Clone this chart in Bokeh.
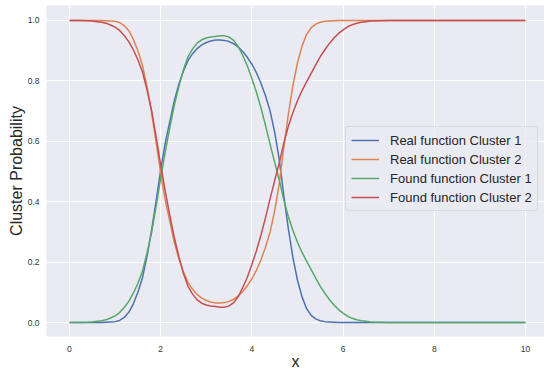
from bokeh.plotting import figure
from bokeh.models import Range1d, FixedTicker, PrintfTickFormatter, Legend, LegendItem
from bokeh.embed import file_html
from bokeh.resources import INLINE

# ---- data ----
x = [0.0, 0.2, 0.4, 0.5, 0.6, 0.7, 0.8, 0.9, 1.0, 1.1,
     1.2, 1.3, 1.4, 1.5, 1.6, 1.7, 1.8, 1.9, 2.0, 2.1,
     2.2, 2.3, 2.4, 2.5, 2.6, 2.7, 2.8, 2.9, 3.0, 3.1,
     3.2, 3.3, 3.4, 3.5, 3.6, 3.7, 3.8, 3.9, 4.0, 4.1,
     4.2, 4.3, 4.4, 4.5, 4.6, 4.7, 4.8, 4.9, 5.0, 5.1,
     5.2, 5.3, 5.4, 5.5, 5.6, 5.7, 5.8, 5.9, 6.0, 6.1,
     6.2, 6.3, 6.4, 6.5, 6.6, 6.8, 7.0, 8.0, 9.0, 10.0]

real_cluster1 = [0, 0, 0, 0, 0, 0, 0.001, 0.002, 0.003, 0.007,
                 0.017, 0.034, 0.062, 0.10, 0.148, 0.219, 0.305, 0.403, 0.505, 0.595,
                 0.665, 0.735, 0.79, 0.833, 0.868, 0.89, 0.907, 0.919, 0.927, 0.932,
                 0.935, 0.935, 0.934, 0.93, 0.923, 0.912, 0.897, 0.878, 0.855, 0.827,
                 0.792, 0.75, 0.70, 0.63, 0.54, 0.42, 0.31, 0.215, 0.14, 0.085,
                 0.046, 0.024, 0.012, 0.006, 0.003, 0.002, 0.001, 0, 0, 0,
                 0, 0, 0, 0, 0, 0, 0, 0, 0, 0]

real_cluster2 = [1, 1, 1, 1, 1, 1, 0.999, 0.998, 0.997, 0.993,
                 0.983, 0.966, 0.938, 0.90, 0.852, 0.781, 0.695, 0.597, 0.495, 0.405,
                 0.335, 0.265, 0.21, 0.167, 0.132, 0.11, 0.093, 0.081, 0.073, 0.068,
                 0.065, 0.065, 0.066, 0.07, 0.077, 0.088, 0.103, 0.122, 0.145, 0.173,
                 0.208, 0.25, 0.30, 0.37, 0.46, 0.58, 0.69, 0.785, 0.86, 0.915,
                 0.954, 0.976, 0.988, 0.994, 0.997, 0.998, 0.999, 1, 1, 1,
                 1, 1, 1, 1, 1, 1, 1, 1, 1, 1]

found_cluster1 = [0, 0, 0.001, 0.002, 0.004, 0.006, 0.009, 0.015, 0.022, 0.033,
                  0.05, 0.07, 0.097, 0.13, 0.17, 0.23, 0.297, 0.385, 0.478, 0.565,
                  0.645, 0.72, 0.782, 0.838, 0.88, 0.906, 0.925, 0.936, 0.942, 0.945,
                  0.947, 0.949, 0.949, 0.945, 0.934, 0.914, 0.884, 0.85, 0.808, 0.762,
                  0.71, 0.652, 0.59, 0.53, 0.472, 0.406, 0.35, 0.305, 0.266, 0.232,
                  0.203, 0.175, 0.147, 0.12, 0.097, 0.076, 0.058, 0.043, 0.031, 0.021,
                  0.014, 0.009, 0.006, 0.004, 0.002, 0.001, 0, 0, 0, 0]

found_cluster2 = [1, 1, 0.999, 0.998, 0.996, 0.994, 0.991, 0.985, 0.978, 0.967,
                  0.95, 0.93, 0.903, 0.87, 0.83, 0.77, 0.703, 0.615, 0.522, 0.435,
                  0.355, 0.28, 0.218, 0.162, 0.12, 0.094, 0.075, 0.064, 0.058, 0.055,
                  0.053, 0.051, 0.051, 0.055, 0.066, 0.086, 0.116, 0.15, 0.192, 0.238,
                  0.29, 0.348, 0.41, 0.47, 0.528, 0.594, 0.65, 0.695, 0.734, 0.768,
                  0.797, 0.825, 0.853, 0.88, 0.903, 0.924, 0.942, 0.957, 0.969, 0.979,
                  0.986, 0.991, 0.994, 0.996, 0.998, 0.999, 1, 1, 1, 1]

series_labels = ["Real function Cluster 1", "Real function Cluster 2",
                 "Found function Cluster 1", "Found function Cluster 2"]
x_ticks = [0, 2, 4, 6, 8, 10]
y_ticks = [0.0, 0.2, 0.4, 0.6, 0.8, 1.0]

colors = ["#4C72B0", "#DD8452", "#55A868", "#C44E52"]
FONT = "Liberation Sans"
TXT = "#262626"

p = figure(width=544, height=372, output_backend="svg", toolbar_location=None,
           x_range=Range1d(-0.504, 10.417), y_range=Range1d(-0.0462, 1.0495),
           min_border_left=46, min_border_right=0, min_border_top=5,
           min_border_bottom=35)
p.background_fill_color = "#EAEAF2"
p.border_fill_color = "white"
p.outline_line_color = None

for g in (p.xgrid, p.ygrid):
    g.grid_line_color = "white"
    g.grid_line_width = 1
p.xgrid.ticker = FixedTicker(ticks=x_ticks)
p.ygrid.ticker = FixedTicker(ticks=y_ticks)

p.xaxis.ticker = FixedTicker(ticks=x_ticks)
p.yaxis.ticker = FixedTicker(ticks=y_ticks)
p.yaxis.formatter = PrintfTickFormatter(format="%.1f")

for ax in (p.xaxis, p.yaxis):
    ax.axis_line_color = None
    ax.major_tick_line_color = None
    ax.minor_tick_line_color = None
    ax.major_tick_out = 0
    ax.major_tick_in = 0
    ax.major_label_text_font = FONT
    ax.major_label_text_font_size = "8.5px"
    ax.major_label_text_color = "#333333"
    ax.axis_label_text_font = FONT
    ax.axis_label_text_font_size = "16px"
    ax.axis_label_text_font_style = "normal"
    ax.axis_label_text_color = TXT

p.xaxis.axis_label = "x"
p.yaxis.axis_label = "Cluster Probability"
p.xaxis.major_label_standoff = 9
p.yaxis.major_label_standoff = 7
p.xaxis.axis_label_standoff = -2
p.yaxis.axis_label_standoff = 0

renderers = []
for ys, c in zip([real_cluster1, real_cluster2, found_cluster1, found_cluster2], colors):
    r = p.line(x, ys, line_color=c, line_width=1.5)
    renderers.append(r)

legend = Legend(items=[LegendItem(label=lab, renderers=[r]) for lab, r in zip(series_labels, renderers)],
                location=(299, 125))
legend.background_fill_color = "#EAEAF2"
legend.background_fill_alpha = 0.8
legend.border_line_color = "#cccccc"
legend.border_line_width = 1
legend.label_text_font = FONT
legend.label_text_font_size = "13px"
legend.label_text_color = TXT
legend.glyph_width = 28
legend.glyph_height = 16
legend.label_height = 16
legend.label_standoff = 11
legend.padding = 5
legend.spacing = 3
legend.margin = 0
if "border_radius" in Legend.properties():
    legend.border_radius = 3
p.add_layout(legend)

open("out.html", "w").write(file_html(p, INLINE))
